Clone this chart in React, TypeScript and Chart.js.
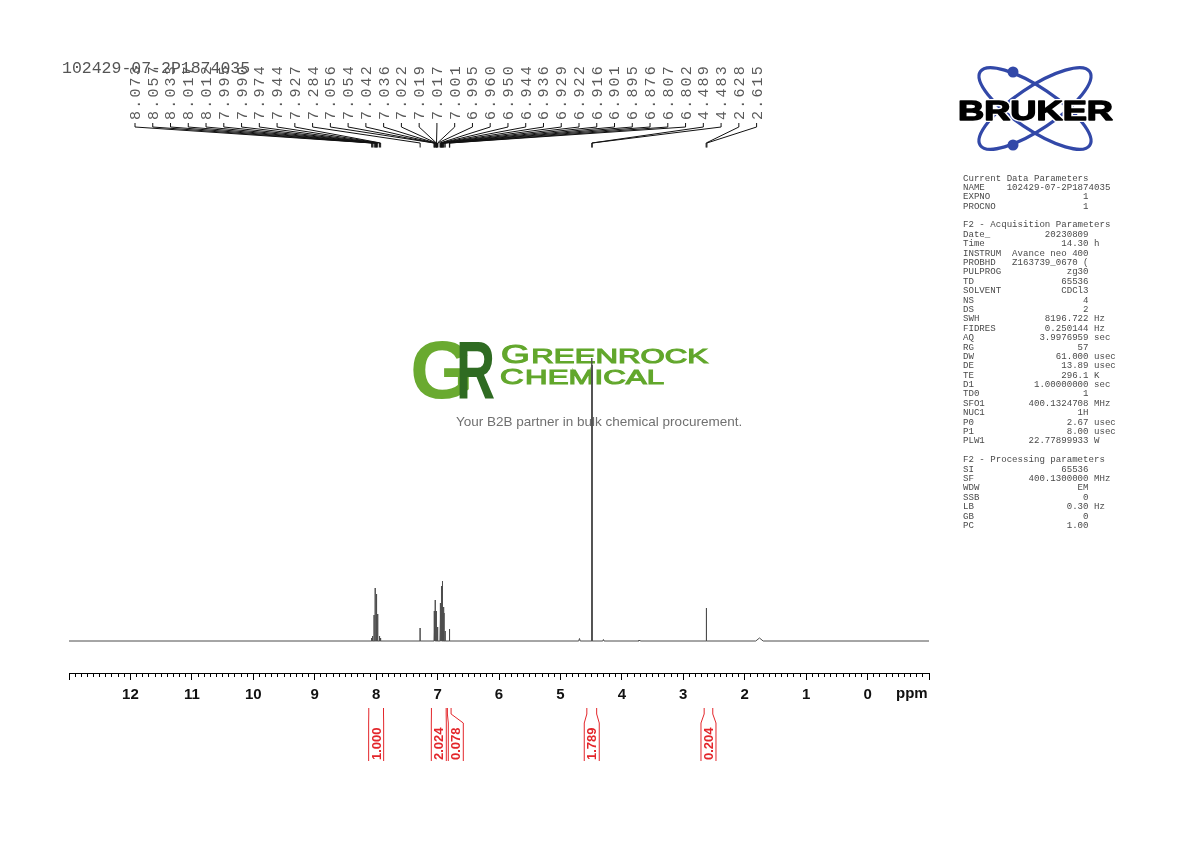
import React, { useEffect, useRef } from 'react';
import { Chart, registerables } from 'chart.js';

Chart.register(...registerables);

// ---------------- data ----------------
const spectrumName = '102429-07-2P1874035';

const peakPpm = [
  8.073, 8.057, 8.033, 8.017, 8.012, 7.995, 7.990, 7.974, 7.944, 7.927,
  7.284,
  7.056, 7.054, 7.042, 7.036, 7.022, 7.019, 7.017, 7.001, 6.995,
  6.960, 6.950, 6.944, 6.936, 6.929, 6.922, 6.916, 6.901, 6.895, 6.876,
  6.807, 6.802,
  4.489, 4.483,
  2.628, 2.615,
];
const peakHeight = [
  3, 5, 26, 53, 50, 47, 44, 27, 5, 3,
  13,
  8, 10, 30, 41, 30, 26, 24, 14, 12,
  22, 38, 34, 40, 55, 60, 45, 34, 28, 10,
  12, 11,
  283, 276,
  33, 32,
];
const peakLabels = peakPpm.map((p) => p.toFixed(3));

// small unlabelled signals
const minorPpm = [4.69, 4.30, 3.71, 1.76];
const minorHeight = [2.5, 1.5, 1, 3];
const minorHalfWidth = [0.012, 0.01, 0.01, 0.06];

// integrals
const integralFrom = [8.12, 7.10, 6.84, 4.57, 2.66];
const integralTo = [7.88, 6.86, 6.78, 4.41, 2.52];
const integralValue = ['1.000', '2.024', '0.078', '1.789', '0.204'];

// axis
const axisMin = -1;
const axisMax = 13;
const axisTickLabels = [12, 11, 10, 9, 8, 7, 6, 5, 4, 3, 2, 1, 0];

// parameter block
const headerCurrent = 'Current Data Parameters';
const paramsCurrent: [string, string, string][] = [
  ['NAME', '102429-07-2P1874035', ''],
  ['EXPNO', '1', ''],
  ['PROCNO', '1', ''],
];
const headerAcq = 'F2 - Acquisition Parameters';
const paramsAcq: [string, string, string][] = [
  ['Date_', '20230809', ''],
  ['Time', '14.30', 'h'],
  ['INSTRUM', 'Avance neo 400', ''],
  ['PROBHD', 'Z163739_0670 (', ''],
  ['PULPROG', 'zg30', ''],
  ['TD', '65536', ''],
  ['SOLVENT', 'CDCl3', ''],
  ['NS', '4', ''],
  ['DS', '2', ''],
  ['SWH', '8196.722', 'Hz'],
  ['FIDRES', '0.250144', 'Hz'],
  ['AQ', '3.9976959', 'sec'],
  ['RG', '57', ''],
  ['DW', '61.000', 'usec'],
  ['DE', '13.89', 'usec'],
  ['TE', '296.1', 'K'],
  ['D1', '1.00000000', 'sec'],
  ['TD0', '1', ''],
  ['SFO1', '400.1324708', 'MHz'],
  ['NUC1', '1H', ''],
  ['P0', '2.67', 'usec'],
  ['P1', '8.00', 'usec'],
  ['PLW1', '22.77899933', 'W'],
];
const headerProc = 'F2 - Processing parameters';
const paramsProc: [string, string, string][] = [
  ['SI', '65536', ''],
  ['SF', '400.1300000', 'MHz'],
  ['WDW', 'EM', ''],
  ['SSB', '0', ''],
  ['LB', '0.30', 'Hz'],
  ['GB', '0', ''],
  ['PC', '1.00', ''],
];

const watermarkTagline = 'Your B2B partner in bulk chemical procurement.';

// ---------------- helpers ----------------
const STICK = 0.0009;

function buildSpectrum() {
  const list: { p: number; h: number; w: number }[] = [];
  peakPpm.forEach((p, i) => list.push({ p, h: peakHeight[i], w: STICK }));
  minorPpm.forEach((p, i) => list.push({ p, h: minorHeight[i], w: minorHalfWidth[i] }));
  list.sort((a, b) => a.p - b.p);
  const pts: { x: number; y: number }[] = [{ x: axisMin, y: 0 }];
  list.forEach((k) => {
    pts.push({ x: k.p - k.w, y: 0 }, { x: k.p, y: k.h }, { x: k.p + k.w, y: 0 });
  });
  pts.push({ x: axisMax, y: 0 });
  return pts;
}

const isMajor = (v: number) => Math.abs(v - Math.round(v)) < 1e-6;

const MONO = "'Liberation Mono', 'DejaVu Sans Mono', monospace";
const SANS = "'Liberation Sans', Arial, sans-serif";

function fmtParam(r: [string, string, string]) {
  return r[0].padEnd(8) + r[1].padStart(15) + (r[2] ? ' ' + r[2] : '');
}

const overlayPlugin = {
  id: 'nmrOverlay',
  beforeDatasetsDraw(chart: any) {
    const ctx: CanvasRenderingContext2D = chart.ctx;
    ctx.save();
    // GR monogram
    ctx.textBaseline = 'alphabetic';
    ctx.textAlign = 'left';
    ctx.font = `bold 82px ${SANS}`;
    ctx.fillStyle = '#6aaa30';
    ctx.fillText('G', 410, 398);
    ctx.save();
    ctx.translate(456, 398);
    ctx.scale(0.66, 1);
    ctx.fillStyle = '#2f6b22';
    ctx.fillText('R', 0, 0);
    ctx.restore();
    // GREENROCK / CHEMICAL
    const word = (big: string, rest: string, x: number, y: number, w: number, bs: number, rs: number) => {
      ctx.save();
      ctx.font = `${bs}px ${SANS}`;
      const wb = ctx.measureText(big).width;
      ctx.font = `${rs}px ${SANS}`;
      const wr = ctx.measureText(rest).width;
      const sx = w / (wb + wr + 1);
      ctx.translate(x, y);
      ctx.scale(sx, 1);
      ctx.fillStyle = '#62a72c';
      ctx.strokeStyle = '#62a72c';
      ctx.lineWidth = 1.1;
      ctx.font = `${bs}px ${SANS}`;
      ctx.fillText(big, 0, 0);
      ctx.strokeText(big, 0, 0);
      ctx.font = `${rs}px ${SANS}`;
      ctx.fillText(rest, wb + 1, 0);
      ctx.strokeText(rest, wb + 1, 0);
      ctx.restore();
    };
    word('G', 'REENROCK', 501, 363, 207, 25, 21);
    word('C', 'HEMICAL', 500, 384, 164, 22, 21);
    // tagline
    ctx.font = `13.5px ${SANS}`;
    ctx.fillStyle = '#707070';
    ctx.fillText(watermarkTagline, 456, 426);
    ctx.restore();
  },
  afterDraw(chart: any) {
    const ctx: CanvasRenderingContext2D = chart.ctx;
    const xs = chart.scales.x;
    ctx.save();

    // peak labels & leads
    ctx.font = `15px ${MONO}`;
    (ctx as any).letterSpacing = '2.2px';
    ctx.fillStyle = '#5a5a5a';
    ctx.strokeStyle = '#111';
    ctx.lineWidth = 1;
    peakLabels.forEach((lab, i) => {
      const lx = 135 + i * 17.76;
      ctx.save();
      ctx.translate(lx, 120);
      ctx.rotate(-Math.PI / 2);
      ctx.textAlign = 'left';
      ctx.textBaseline = 'middle';
      ctx.fillText(lab, 0, 1);
      ctx.restore();
      const px = xs.getPixelForValue(peakPpm[i]);
      ctx.beginPath();
      ctx.moveTo(lx, 123);
      ctx.lineTo(lx, 127);
      ctx.lineTo(px, 143);
      ctx.lineTo(px, 147.5);
      ctx.stroke();
    });
    (ctx as any).letterSpacing = '0px';

    // title
    ctx.font = `16.5px ${MONO}`;
    ctx.fillStyle = '#555';
    ctx.textAlign = 'left';
    ctx.textBaseline = 'alphabetic';
    ctx.fillText(spectrumName, 62, 73);

    // ppm unit label
    ctx.font = `bold 15px ${SANS}`;
    ctx.fillStyle = '#111';
    ctx.textBaseline = 'middle';
    ctx.fillText('ppm', 896, 694);

    // integrals
    const items = integralFrom.map((f, i) => {
      const x1 = xs.getPixelForValue(f);
      const x2 = xs.getPixelForValue(integralTo[i]);
      return { x1, x2, c: (x1 + x2) / 2, v: integralValue[i] };
    }).sort((a, b) => a.c - b.c);
    let lastRight = -1e9;
    items.forEach((it: any) => {
      let bl = it.c - 7.5;
      if (bl < lastRight + 2) bl = lastRight + 2;
      it.bl = bl;
      it.br = bl + 15;
      lastRight = it.br;
    });
    ctx.strokeStyle = '#e3262b';
    ctx.fillStyle = '#e3262b';
    ctx.lineWidth = 1;
    items.forEach((it: any) => {
      ctx.beginPath();
      ctx.moveTo(it.x1, 708);
      ctx.lineTo(it.x1, 714);
      ctx.lineTo(it.bl, 723);
      ctx.lineTo(it.bl, 761);
      ctx.moveTo(it.x2, 708);
      ctx.lineTo(it.x2, 714);
      ctx.lineTo(it.br, 723);
      ctx.lineTo(it.br, 761);
      ctx.stroke();
      ctx.save();
      ctx.translate((it.bl + it.br) / 2, 760);
      ctx.rotate(-Math.PI / 2);
      ctx.font = `bold 13px ${SANS}`;
      ctx.textAlign = 'left';
      ctx.textBaseline = 'middle';
      ctx.fillText(it.v, 0, 1);
      ctx.restore();
    });

    // parameter block
    const rows: string[] = [];
    rows.push(headerCurrent, ...paramsCurrent.map(fmtParam), '');
    rows.push(headerAcq, ...paramsAcq.map(fmtParam), '');
    rows.push(headerProc, ...paramsProc.map(fmtParam));
    ctx.font = `9.1px ${MONO}`;
    ctx.fillStyle = '#4a4a4a';
    ctx.textAlign = 'left';
    ctx.textBaseline = 'alphabetic';
    rows.forEach((r, i) => {
      if (r) ctx.fillText(r, 963, 180.5 + i * 9.39);
    });

    // Bruker logo
    const cx = 1035, cy = 108.5;
    ctx.strokeStyle = '#3248a8';
    ctx.fillStyle = '#3248a8';
    ctx.lineWidth = 3.2;
    const rot = (34 * Math.PI) / 180;
    ctx.beginPath();
    ctx.ellipse(cx, cy, 66, 21, rot, 0, Math.PI * 2);
    ctx.stroke();
    ctx.beginPath();
    ctx.ellipse(cx, cy, 66, 21, -rot, 0, Math.PI * 2);
    ctx.stroke();
    ctx.beginPath();
    ctx.arc(1013, 72, 5.5, 0, Math.PI * 2);
    ctx.fill();
    ctx.beginPath();
    ctx.arc(1013, 145, 5.5, 0, Math.PI * 2);
    ctx.fill();
    ctx.save();
    ctx.font = `bold 28px ${SANS}`;
    const bw = ctx.measureText('BRUKER').width;
    ctx.translate(958, 120);
    ctx.scale(155 / bw, 1);
    ctx.textBaseline = 'alphabetic';
    ctx.lineJoin = 'round';
    ctx.strokeStyle = '#ffffff';
    ctx.lineWidth = 4;
    ctx.strokeText('BRUKER', 0, 0);
    ctx.fillStyle = '#000';
    ctx.fillText('BRUKER', 0, 0);
    ctx.strokeStyle = '#000';
    ctx.lineWidth = 1.4;
    ctx.strokeText('BRUKER', 0, 0);
    ctx.restore();

    ctx.restore();
  },
};

export default function App() {
  const ref = useRef<HTMLCanvasElement | null>(null);

  useEffect(() => {
    if (!ref.current) return;
    const chart = new Chart(ref.current, {
      type: 'line',
      data: {
        datasets: [
          {
            data: buildSpectrum(),
            borderColor: '#4d4d4d',
            borderWidth: 1,
            pointRadius: 0,
            tension: 0,
            fill: false,
          } as any,
        ],
      },
      options: {
        animation: false,
        responsive: false,
        events: [],
        layout: { padding: { left: 69, right: 261, top: 150, bottom: 0 } },
        plugins: { legend: { display: false }, tooltip: { enabled: false } },
        scales: {
          x: {
            type: 'linear',
            reverse: true,
            min: axisMin,
            max: axisMax,
            position: 'bottom',
            afterFit: (s: any) => {
              s.height = 169;
            },
            border: { display: true, color: '#000', width: 1 },
            grid: {
              display: true,
              drawOnChartArea: false,
              drawTicks: true,
              tickLength: 7,
              tickColor: '#000',
              tickWidth: 1,
              tickBorderDash: (c: any) => (c.tick && isMajor(c.tick.value) ? [] : [3, 40]),
            } as any,
            ticks: {
              stepSize: 0.1,
              autoSkip: false,
              maxRotation: 0,
              minRotation: 0,
              padding: 6,
              color: '#111',
              font: { family: SANS, size: 15, weight: 'bold' },
              callback: (v: any) => {
                const n = Number(v);
                if (!isMajor(n)) return '';
                const r = Math.round(n);
                return axisTickLabels.includes(r) ? String(r) : '';
              },
            },
          },
          y: { display: false, min: -32, max: 491 },
        },
      },
      plugins: [overlayPlugin],
    } as any);
    return () => chart.destroy();
  }, []);

  return (
    <div style={{ position: 'absolute', left: 0, top: 0, width: 1190, height: 842, background: '#fff' }}>
      <canvas ref={ref} width={1190} height={842} style={{ display: 'block' }} />
    </div>
  );
}
